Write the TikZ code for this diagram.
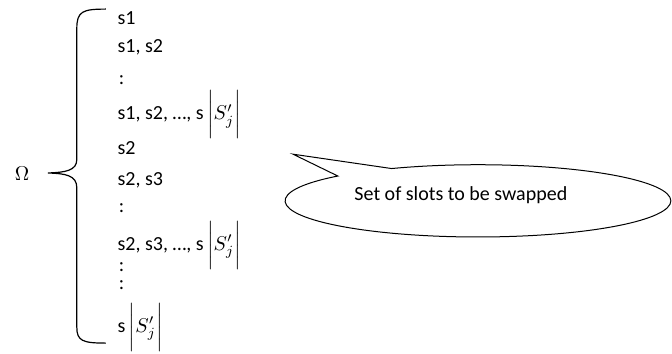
\documentclass[tikz,border=0pt]{standalone}
\usepackage{amsmath}
\usepackage{fontspec}
\setmainfont{Carlito}
\usetikzlibrary{shapes.callouts}
\newcommand{\slotcard}{$\,\biggl|S'_{j}\biggr|$}

\begin{document}
\begin{tikzpicture}[
  font=\normalsize,
  item/.style={
    anchor=west,
    inner sep=0pt
  },
  bubble/.style={
    ellipse callout,
    draw,
    line width=0.5pt,
    minimum width=6.78cm,
    minimum height=1.27cm,
    inner sep=0pt,
    callout pointer arc=20
  },
  brace/.style={line width=0.6pt}
]
\useasboundingbox (0,0) rectangle (11.81,-6.22);

\node (omega) at (0.39,-3.06) {$\Omega$};

\node[item] (s1) at (2.06,-0.32) {s1};
\node[item] (s12) at (2.06,-0.84) {s1, s2};
\node[item] (d1) at (2.08,-1.40) {:};
\node[item] (s1n) at (2.06,-2.02) {s1, s2, …, s\slotcard};
\node[item] (s2) at (2.06,-2.60) {s2};
\node[item] (s23) at (2.06,-3.16) {s2, s3};
\node[item] (d2) at (2.08,-3.66) {:};
\node[item] (s2n) at (2.06,-4.31) {s2, s3, …, s\slotcard};
\node[item] (d3) at (2.08,-4.69) {:};
\node[item] (d4) at (2.08,-5.01) {:};
\node[item] (sn) at (2.06,-5.75) {s\slotcard};

% brace
\coordinate (braceTop) at (1.86,-0.16);
\coordinate (braceTip) at (0.84,-3.04);
\coordinate (braceBot) at (1.86,-6.03);
\draw[brace] (braceTop) .. controls (1.45,-0.16) and (1.35,-0.2) .. (1.35,-0.5)
  -- (1.35,-2.8) .. controls (1.35,-3.0) and (1.15,-3.03) .. (braceTip)
  .. controls (1.15,-3.05) and (1.35,-3.08) .. (1.35,-3.3)
  -- (1.35,-5.75) .. controls (1.35,-5.99) and (1.45,-6.03) .. (braceBot);

% callout
\coordinate (tail) at (5.15,-2.71);
\node[bubble, callout absolute pointer=(tail)] (bubble) at (8.40,-3.53) {};
\node (swaptext) at (8.10,-3.43) {Set of slots to be swapped};
\end{tikzpicture}
\end{document}
